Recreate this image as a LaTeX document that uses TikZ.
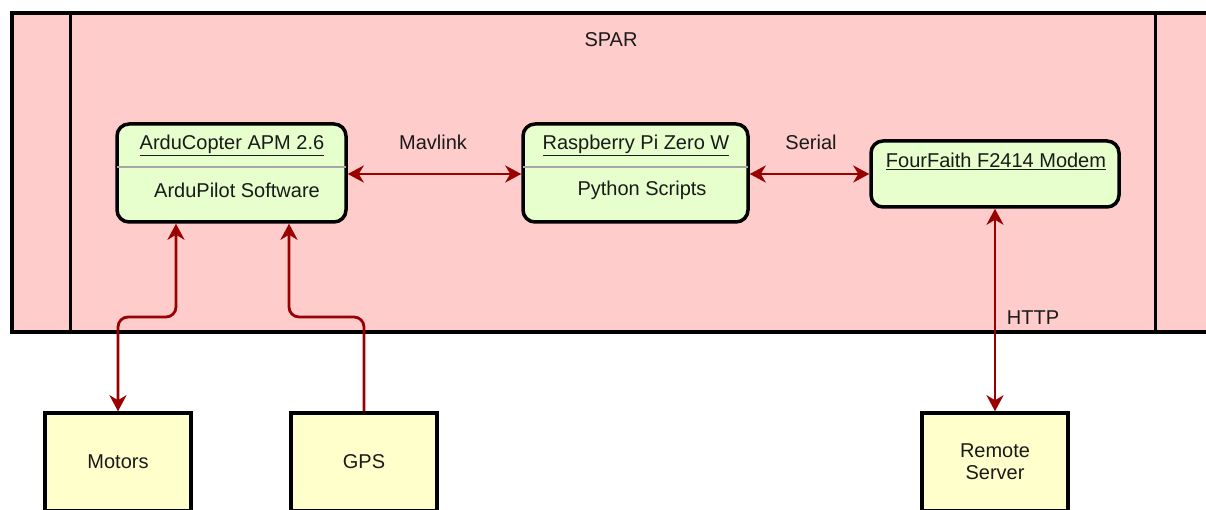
\documentclass[tikz,border=0pt]{standalone}
\usepackage{fontspec}
\setmainfont{Liberation Sans}
\usetikzlibrary{arrows.meta}
\definecolor{spar}{HTML}{FFCCCC}
\definecolor{green}{HTML}{E6FFCC}
\definecolor{yel}{HTML}{FFFFCC}
\definecolor{darkred}{HTML}{990000}
\definecolor{txt}{HTML}{1A1A1A}
\tikzset{
  every node/.style={text=txt, font=\fontsize{20}{24}\selectfont, inner sep=0pt},
  compbox/.style={draw=black, line width=3.5pt, fill=green, rounded corners=12pt},
  extbox/.style={draw=black, line width=3.5pt, fill=yel, minimum width=146pt, minimum height=98pt, align=center},
  conn/.style={draw=darkred, line width=2.8pt, arrows={-}, >={Stealth[length=16pt,width=17pt,inset=5pt]}},
  divider/.style={draw=gray!70, line width=1.2pt},
  lbl/.style={}
}
\begin{document}
\begin{tikzpicture}[x=1pt,y=-1pt]
\useasboundingbox (0,0) rectangle (1206,510);
\clip (0,0) rectangle (1206,510);
% container
\draw[line width=4pt, fill=spar] (12,13) rectangle (1230,332);
\draw[line width=3pt] (70,13) -- (70,332);
\draw[line width=3pt] (1155,13) -- (1155,332);
\node[lbl] (spar) at (611,40) {SPAR};
% component boxes
\node[compbox, minimum width=229pt, minimum height=98pt] (box1) at (231.5,173) {};
\draw[divider] ([xshift=2pt]box1.west |- 0,167) -- ([xshift=-2pt]box1.east |- 0,167);
\node (t1) at (232,145) {\underline{ArduCopter APM 2.6}};
\node (b1) at (237,190) {ArduPilot Software};
\node[compbox, minimum width=225pt, minimum height=98pt] (box2) at (635.5,173) {};
\draw[divider] ([xshift=2pt]box2.west |- 0,167) -- ([xshift=-2pt]box2.east |- 0,167);
\node (t2) at (636,145) {\underline{Raspberry Pi Zero W}};
\node (b2) at (642,190) {Python Scripts};
\node[compbox, minimum width=248pt, minimum height=66pt] (box3) at (995,174) {};
\node (t3) at (996,161) {\underline{FourFaith F2414 Modem}};
% external boxes
\node[extbox] (motors) at (118,462) {Motors};
\node[extbox] (gps) at (364,462) {GPS};
\node[extbox] (remote) at (995,462) {Remote\\[-2pt]Server};
% connectors
\draw[conn,<->] (box1.east |- 0,174) -- (box2.west |- 0,174);
\node (mav) at (433,142) {Mavlink};
\draw[conn,<->] (box2.east |- 0,174) -- (box3.west |- 0,174);
\node (ser) at (811,142) {Serial};
\draw[conn,<->,rounded corners=10pt] (176,0 |- box1.south) |- (118,317) -- (motors.north);
\draw[conn,->,rounded corners=10pt] (gps.north) |- (289,317) -- (289,0 |- box1.south);
\draw[conn,<->] (box3.south) -- (remote.north);
\node (http) at (1033,318) {HTTP};
\end{tikzpicture}
\end{document}
